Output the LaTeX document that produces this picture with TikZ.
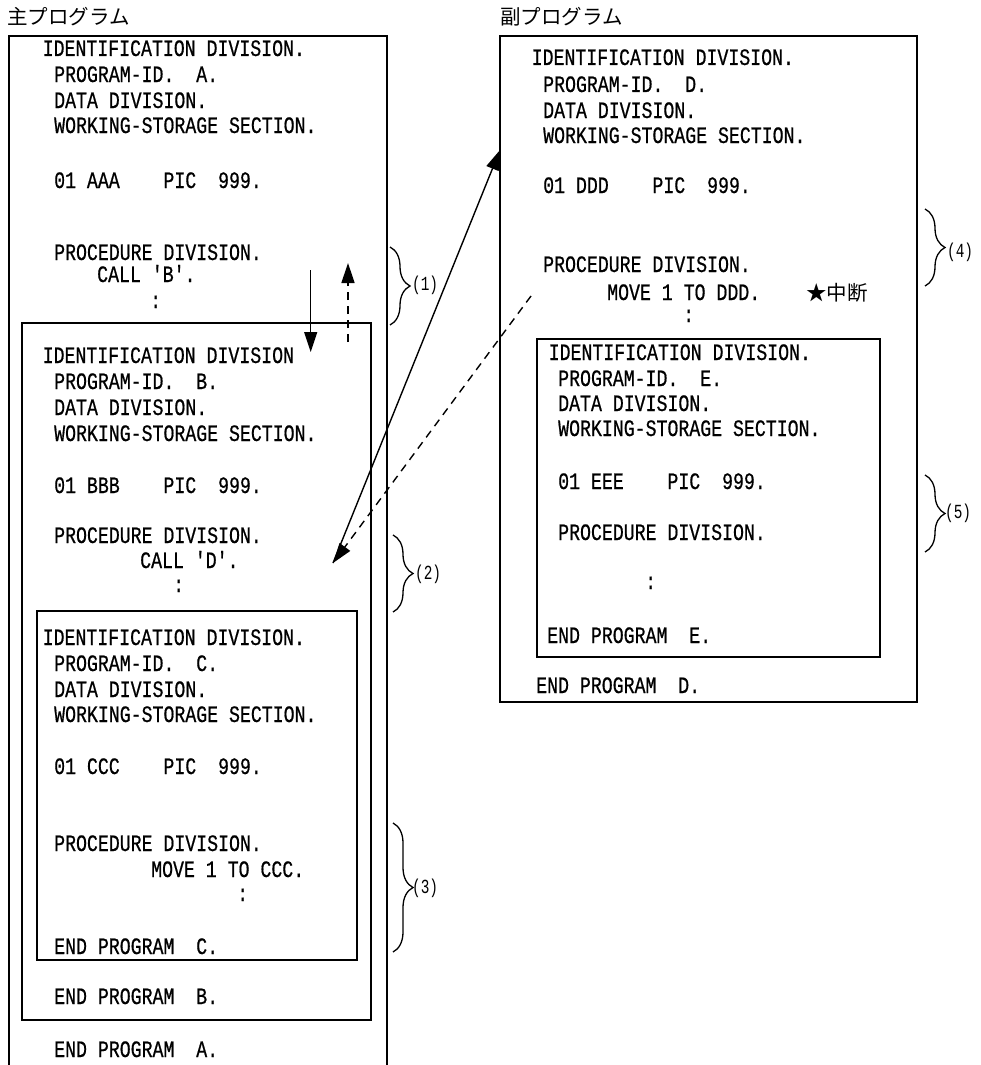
\documentclass[tikz,border=0pt]{standalone}
\usepackage{fontspec}
\usetikzlibrary{arrows.meta,decorations.pathreplacing}
\newfontfamily\codefont[FakeStretch=0.775,FakeBold=0.6]{Liberation Mono}
\newfontfamily\labfont[FakeStretch=0.72]{Liberation Mono}
\newfontfamily\jpfont{Noto Sans CJK JP}
\begin{document}
\begin{tikzpicture}[x=1pt,y=-1pt,
  code/.style={font=\codefont\fontsize{23.5}{23.5}\selectfont, inner sep=0pt, anchor=base west},
  jp/.style={font=\jpfont\fontsize{20.5}{20.5}\selectfont, inner sep=0pt, anchor=base west},
  lab/.style={font=\labfont\fontsize{20}{20}\selectfont, inner sep=0pt, anchor=west},
  box/.style={draw=black, line width=1.4pt},
  conn/.style={line width=1.4pt, -{Triangle[length=20pt,width=13pt]}},
  dconn/.style={conn, dash pattern=on 8pt off 6pt},
  brc/.style={line width=1.3pt, decorate, decoration={brace, amplitude=20pt}}]
\useasboundingbox (0,0) rectangle (980,1065);

% titles
\node[jp] (tmain) at (7,24.5) {主プログラム};
\node[jp] (tsub) at (500,24.5) {副プログラム};

% boxes
\draw[box] (9,1070) -- (9,36) -- (387,36) -- (387,1070);
\draw[box] (22,323) rectangle (371,1020);
\draw[box] (37,611) rectangle (357,960);
\draw[box] (500,36) rectangle (917,702);
\draw[box] (537,339) rectangle (880,657);

% program A
\node[code] (a1) at (42.5,56) {IDENTIFICATION DIVISION.};
\node[code] (a2) at (54,82) {PROGRAM-ID.~~A.};
\node[code] (a3) at (54,108) {DATA DIVISION.};
\node[code] (a4) at (54,133) {WORKING-STORAGE SECTION.};
\node[code] (a5) at (54,188) {01 AAA~~~~PIC~~999.};
\node[code] (a6) at (54,260) {PROCEDURE DIVISION.};
\node[code] (a7) at (97,282) {CALL~'B'.};
\node[code] (a8) at (150,308) {:};
\node[code] (a9) at (54,1057) {END PROGRAM~~A.};

% program B
\node[code] (b1) at (42.5,363) {IDENTIFICATION DIVISION};
\node[code] (b2) at (54,389) {PROGRAM-ID.~~B.};
\node[code] (b3) at (54,415) {DATA DIVISION.};
\node[code] (b4) at (54,441) {WORKING-STORAGE SECTION.};
\node[code] (b5) at (54,493) {01 BBB~~~~PIC~~999.};
\node[code] (b6) at (54,543) {PROCEDURE DIVISION.};
\node[code] (b7) at (140,568) {CALL~'D'.};
\node[code] (b8) at (173,592) {:};
\node[code] (b9) at (54,1004) {END PROGRAM~~B.};

% program C
\node[code] (c1) at (42.5,645) {IDENTIFICATION DIVISION.};
\node[code] (c2) at (54,671) {PROGRAM-ID.~~C.};
\node[code] (c3) at (54,697) {DATA DIVISION.};
\node[code] (c4) at (54,722) {WORKING-STORAGE SECTION.};
\node[code] (c5) at (54,774) {01 CCC~~~~PIC~~999.};
\node[code] (c6) at (54,851) {PROCEDURE DIVISION.};
\node[code] (c7) at (151,877) {MOVE 1 TO CCC.};
\node[code] (c8) at (237,901) {:};
\node[code] (c9) at (54,954) {END PROGRAM~~C.};

% program D
\node[code] (d1) at (531.5,65) {IDENTIFICATION DIVISION.};
\node[code] (d2) at (543,92) {PROGRAM-ID.~~D.};
\node[code] (d3) at (543,118) {DATA DIVISION.};
\node[code] (d4) at (543,143) {WORKING-STORAGE SECTION.};
\node[code] (d5) at (543,193) {01 DDD~~~~PIC~~999.};
\node[code] (d6) at (543,272) {PROCEDURE DIVISION.};
\node[code] (d7) at (607,300) {MOVE 1 TO DDD.};
\node[jp] (d7b) at (806,300) {★中断};
\node[code] (d8) at (683,322) {:};
\node[code] (d9) at (536,693) {END PROGRAM~~D.};

% program E
\node[code] (e1) at (548.5,360) {IDENTIFICATION DIVISION.};
\node[code] (e2) at (558,386) {PROGRAM-ID.~~E.};
\node[code] (e3) at (558,411) {DATA DIVISION.};
\node[code] (e4) at (558,436) {WORKING-STORAGE SECTION.};
\node[code] (e5) at (558,489) {01 EEE~~~~PIC~~999.};
\node[code] (e6) at (558,540) {PROCEDURE DIVISION.};
\node[code] (e7) at (645,589) {:};
\node[code] (e8) at (547,643) {END PROGRAM~~E.};

% braces and labels
\draw[brc] (390,247) -- (390,325);
\node[lab] (l1) at (412,285) {(1)};
\draw[brc] (393,535) -- (393,612);
\node[lab] (l2) at (415,574) {(2)};
\draw[brc] (393,823) -- (393,952);
\node[lab] (l3) at (412,888) {(3)};
\draw[brc] (925,209) -- (925,286);
\node[lab] (l4) at (947,252) {(4)};
\draw[brc] (925,475) -- (925,552);
\node[lab] (l5) at (945,513) {(5)};

% connectors
\coordinate (callBs) at (310.7,270);
\coordinate (callBt) at (310.7,352);
\coordinate (retBs) at (348,342);
\coordinate (retBt) at (348,263);
\coordinate (callDs) at (333,563);
\coordinate (callDt) at (500,150);
\coordinate (retDs) at (531,296);
\coordinate (retDt) at (333,563);
\draw[conn] (callBs) -- (callBt);
\draw[dconn] (retBs) -- (retBt);
\draw[conn] (callDs) -- (callDt);
\draw[dconn] (retDs) -- (retDt);
\end{tikzpicture}
\end{document}
